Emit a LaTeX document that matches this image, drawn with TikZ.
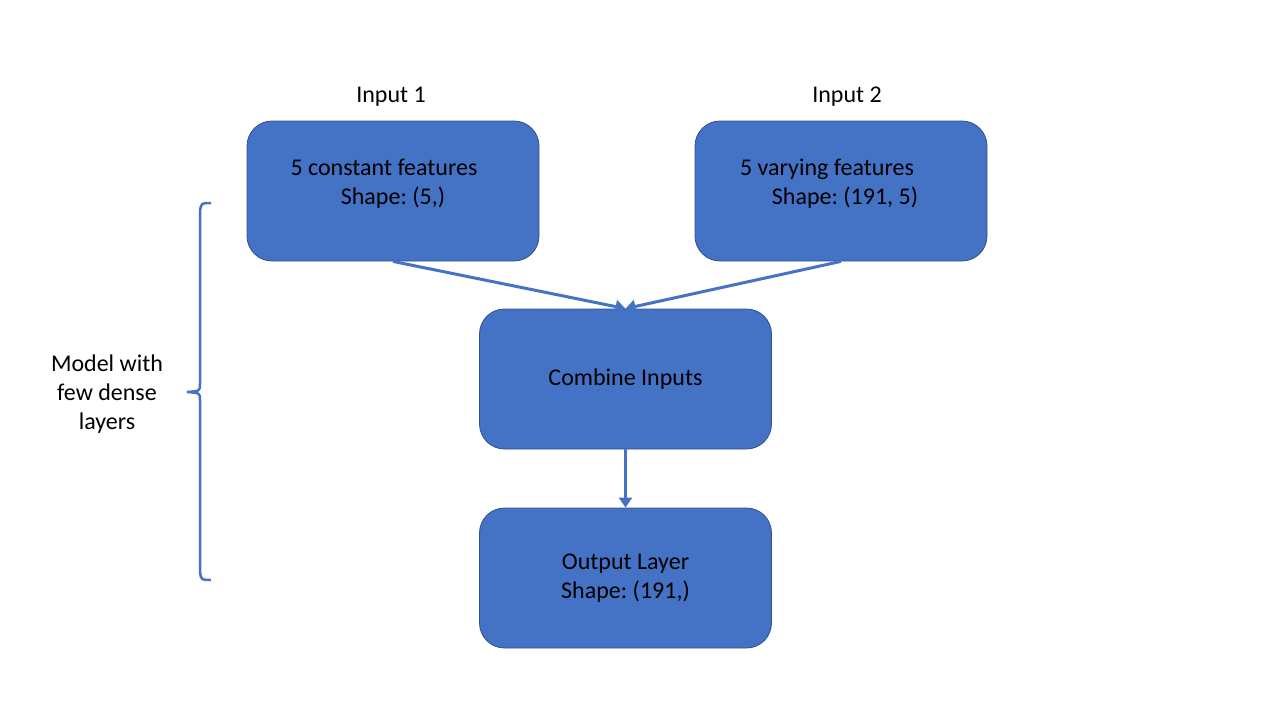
\documentclass[tikz,border=0pt]{standalone}
\usepackage{fontspec}
\setmainfont{Carlito}
\usetikzlibrary{positioning, arrows.meta}
\definecolor{boxblue}{HTML}{4472C4}
\definecolor{boxedge}{HTML}{2F528F}
\frenchspacing
\tikzset{
block/.style={draw=boxedge, line width=0.8pt, fill=boxblue, rounded corners=25pt,
    minimum width=292pt, minimum height=140pt, align=center, inner sep=0pt},
caption/.style={align=center, inner sep=0pt},
flow/.style={draw=boxblue, line width=3pt, -{Triangle[width=13pt,length=10pt]}},
}

\begin{document}
\begin{tikzpicture}[x=1pt, y=-1pt, font=\fontsize{24}{29}\selectfont]
    \useasboundingbox (0,0) rectangle (1280,720);

    %input row
    \node[caption]  (in1) at (391,97)  {Input 1};
    \node[caption]  (in2) at (847,97)  {Input 2};
    \node[block]  (const) at (393,191) {5 constant features\hspace*{18pt}\\Shape: (5,)\\[-11pt]\mbox{}};
    \node[block]   (vary) at (841,191) {5 varying features\hspace*{28pt}\\\hspace*{8pt}Shape: (191, 5)\\[-11pt]\mbox{}};

    %middle and bottom
    \node[block]   (comb) at (625.5,379) {\rule{0pt}{6pt}Combine Inputs};
    \node[block]    (out) at (625.5,578) {\rule{0pt}{6pt}Output Layer\\Shape: (191,)};

    %arrows
    \draw[flow] (const.south) -- (comb.north);
    \draw[flow]  (vary.south) -- (comb.north);
    \draw[flow]  (comb.south) -- (out.north);

    %brace on the left
    \node[caption] (model) at (107,394) {Model with\\few dense\\layers};
    \draw[boxblue, line width=2.5pt]
        (211,203) .. controls (201,203) .. (200,212) -- (200,384)
        .. controls (200,391) .. (187,392) .. controls (200,393) .. (200,400)
        -- (200,571) .. controls (201,580) .. (211,580);

\end{tikzpicture}
\end{document}
